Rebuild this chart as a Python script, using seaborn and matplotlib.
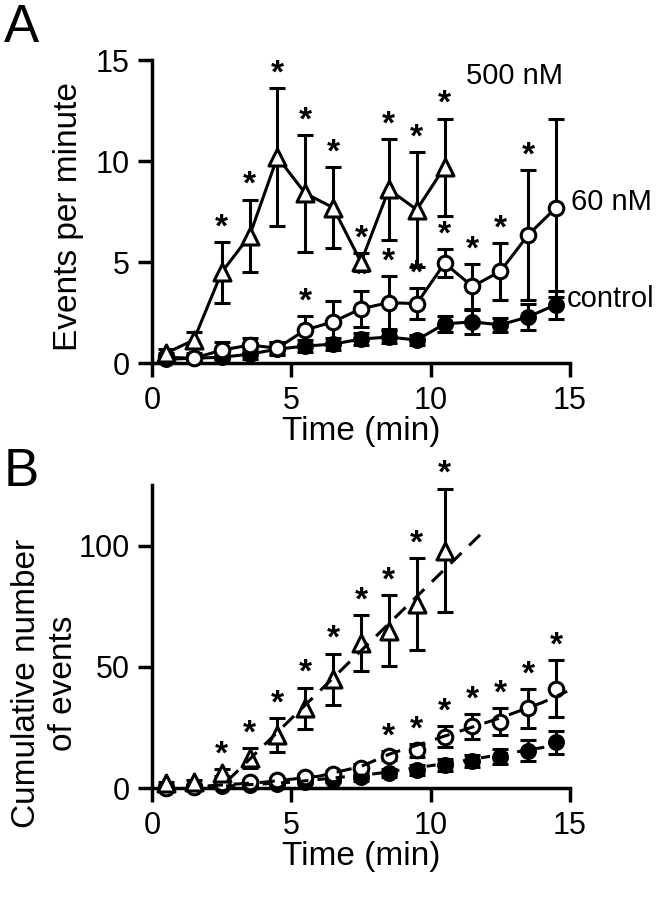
import numpy as np
import pandas as pd
import matplotlib
matplotlib.use("Agg")
import matplotlib.pyplot as plt
import seaborn as sns

sns.set_style("ticks")
plt.rcParams['font.family'] = ['Liberation Sans', 'DejaVu Sans']
plt.rcParams['text.color'] = 'black'
plt.rcParams['axes.labelcolor'] = 'black'

# ---- data ----
time_a = [0.5, 1.5, 2.5, 3.5, 4.5, 5.5, 6.5, 7.5, 8.5, 9.5, 10.5, 11.5, 12.5, 13.5, 14.5]
time_500 = time_a[:11]

# Panel A: events per minute
rate_500 = [0.5, 1.15, 4.5, 6.3, 10.2, 8.4, 7.7, 5.0, 8.6, 7.6, 9.7]
rate_500_err = [0.2, 0.4, 1.5, 1.8, 3.4, 2.9, 2.0, 0.45, 2.5, 2.85, 2.4]
rate_60 = [0.3, 0.25, 0.65, 0.9, 0.75, 1.65, 2.05, 2.7, 3.0, 2.95, 4.95, 3.8, 4.55, 6.35, 7.7]
rate_60_err = [0.2, 0.25, 0.4, 0.35, 0.3, 0.7, 1.05, 0.9, 1.3, 0.75, 0.7, 1.1, 1.4, 3.2, 4.4]
rate_ctl = [0.2, 0.25, 0.3, 0.45, 0.7, 0.85, 0.95, 1.2, 1.3, 1.15, 1.95, 2.05, 1.9, 2.3, 2.9]
rate_ctl_err = [0.1, 0.15, 0.2, 0.25, 0.3, 0.3, 0.3, 0.3, 0.3, 0.25, 0.4, 0.6, 0.35, 0.65, 0.7]
sig_a_500 = [2.5, 3.5, 4.5, 5.5, 6.5, 7.5, 8.5, 9.5, 10.5]
sig_a_60 = [5.5, 7.5, 8.5, 9.5, 10.5, 11.5, 12.5, 13.5]

# Panel B: cumulative number of events
cum_500 = [2.0, 2.5, 6.5, 12.5, 22, 33, 45, 60, 65, 76, 98]
cum_500_err = [0.5, 0.8, 1.5, 4, 7, 8.5, 10.5, 11.5, 14.5, 19, 25.5]
cum_60 = [0.3, 0.7, 2.0, 2.7, 3.4, 4.7, 6.0, 8.5, 13.5, 15.6, 21.3, 25.5, 27.5, 33.0, 41.0]
cum_60_err = [0.2, 0.3, 0.5, 0.7, 0.8, 1.0, 1.2, 1.5, 2.0, 2.5, 4.3, 5.0, 5.6, 8.0, 11.7]
cum_ctl = [0.2, 0.5, 0.8, 1.2, 1.9, 2.8, 3.6, 4.5, 6.2, 7.5, 9.6, 11.4, 13.0, 15.5, 19.0]
cum_ctl_err = [0.1, 0.2, 0.3, 0.4, 0.5, 0.8, 1.0, 1.3, 1.7, 2.0, 2.3, 2.5, 3.0, 4.3, 4.8]
sig_b_500 = [2.5, 3.5, 4.5, 5.5, 6.5, 7.5, 8.5, 9.5, 10.5]
sig_b_60 = [8.5, 9.5, 10.5, 11.5, 12.5, 13.5, 14.5]

# fitted curves in panel B
fit_500_x = [2.7, 12.0]
fit_500_y = [3.0, 107.0]
fit_60_x = [2.0, 4.0, 6.0, 7.5, 8.5, 10.5, 12.5, 14.0, 14.9]
fit_60_y = [1.0, 2.5, 5.0, 9.0, 14.0, 21.5, 29.0, 35.3, 40.0]
fit_ctl_x = [2.0, 5.0, 8.0, 11.0, 14.9]
fit_ctl_y = [0.5, 2.5, 6.0, 11.0, 18.5]

LW = 2.2
TICK_FS = 22
LABEL_FS = 24


def style_axes(ax, ymax, yticks):
    ax.set_xlim(0, 15)
    ax.set_ylim(0, ymax)
    ax.set_xticks([0, 5, 10, 15])
    ax.set_yticks(yticks)
    sns.despine(ax=ax)
    for s in ['left', 'bottom']:
        ax.spines[s].set_linewidth(LW + 0.3)
        ax.spines[s].set_color('black')
    ax.tick_params(direction='out', length=10, width=LW + 0.3, pad=6,
                   labelsize=TICK_FS, colors='black')
    ax.set_xlabel('Time (min)', fontsize=LABEL_FS, labelpad=0)
    ax.set_ylabel('')


def draw_series(ax, x, y, err, marker, face, ms, connect, sig=None):
    ax.errorbar(x, y, yerr=err, fmt='none', ecolor='black', elinewidth=LW,
                capsize=6, capthick=LW, zorder=2, clip_on=False)
    df = pd.DataFrame({'t': x, 'v': y})
    if connect:
        sns.lineplot(data=df, x='t', y='v', ax=ax, color='black', linewidth=LW,
                     zorder=3, clip_on=False, legend=False)
    sns.scatterplot(data=df, x='t', y='v', ax=ax, marker=marker, s=ms,
                    facecolor=face, edgecolor='black', linewidth=LW,
                    zorder=4, clip_on=False, legend=False)
    if sig:
        for xs in sig:
            i = list(x).index(xs)
            ax.annotate('*', xy=(xs, y[i] + err[i]), xytext=(0, -1),
                        textcoords='offset points', ha='center', va='bottom',
                        fontsize=24, fontweight='bold', annotation_clip=False)


fig = plt.figure(figsize=(6.62, 9.0), dpi=100)
W, H = 662.0, 900.0
axA = fig.add_axes([152 / W, 1 - 363.3 / H, 418 / W, 303.3 / H])
axB = fig.add_axes([152 / W, 1 - 788.3 / H, 418 / W, 303.3 / H])

# ---- Panel A ----
draw_series(axA, time_a, rate_ctl, rate_ctl_err, 'o', 'black', 100, True)
draw_series(axA, time_a, rate_60, rate_60_err, 'o', 'white', 110, True, sig_a_60)
draw_series(axA, time_500, rate_500, rate_500_err, '^', 'white', 150, True, sig_a_500)
style_axes(axA, 15, [0, 5, 10, 15])
axA.text(11.25, 14.2, '500 nM', fontsize=21, va='center', ha='left')
axA.text(15.05, 8.0, '60 nM', fontsize=21, va='center', ha='left')
axA.text(14.9, 3.2, 'control', fontsize=21, va='center', ha='left')

# ---- Panel B ----
draw_series(axB, time_a, cum_ctl, cum_ctl_err, 'o', 'black', 100, False)
draw_series(axB, time_a, cum_60, cum_60_err, 'o', 'white', 110, False, sig_b_60)
draw_series(axB, time_500, cum_500, cum_500_err, '^', 'white', 150, False, sig_b_500)
axB.plot(fit_ctl_x, fit_ctl_y, color='black', lw=LW, ls=(0, (3, 3)), zorder=5)
axB.plot(fit_60_x, fit_60_y, color='black', lw=LW, ls=(0, (5, 3.5)), zorder=5)
axB.plot(fit_500_x, fit_500_y, color='black', lw=LW, ls=(0, (5, 3.5)), zorder=5)
style_axes(axB, 125, [0, 50, 100])

# axis labels and panel letters
fig.text(0.103, 1 - 217 / H, 'Events per minute', rotation=90, ha='center',
         va='center', fontsize=LABEL_FS)
fig.text(0.068, 1 - 683 / H, 'Cumulative number\nof events', rotation=90,
         ha='center', va='center', fontsize=LABEL_FS, linespacing=1.25,
         multialignment='center')
fig.text(0.006, 0.997, 'A', fontsize=38, ha='left', va='top')
fig.text(0.006, 1 - 447 / H, 'B', fontsize=38, ha='left', va='top')

fig.savefig('out.png', dpi=100)
